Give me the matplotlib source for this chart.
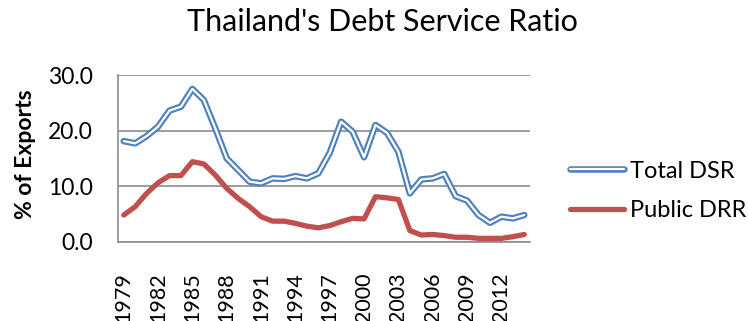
import matplotlib.pyplot as plt
from matplotlib.lines import Line2D

# --------------------------
# Data
# --------------------------
years = list(range(1979, 2015))
total_dsr = [18.1, 17.7, 19.0, 20.7, 23.6, 24.3, 27.5, 25.5, 20.4, 15.0,
             12.9, 10.8, 10.5, 11.4, 11.3, 11.8, 11.4, 12.3, 16.0, 21.6,
             19.8, 15.2, 21.0, 19.6, 16.2, 8.7, 11.2, 11.4, 12.2, 8.2,
             7.4, 4.8, 3.4, 4.5, 4.2, 4.8]
public_drr = [4.8, 6.3, 8.7, 10.6, 11.9, 11.9, 14.4, 14.0, 12.0, 9.6,
              7.8, 6.3, 4.5, 3.7, 3.7, 3.3, 2.8, 2.5, 2.9, 3.6,
              4.2, 4.1, 8.1, 7.9, 7.6, 2.0, 1.2, 1.3, 1.1, 0.8,
              0.8, 0.6, 0.6, 0.6, 0.9, 1.3]
tick_years = years[::3]

blue = '#4F81BD'
red = '#C0504D'
grid_col = '#8C8C8C'

plt.rcParams['font.family'] = ['Lato', 'DejaVu Sans']

fig = plt.figure(figsize=(7.48, 3.21), dpi=100)
ax = fig.add_axes([118 / 748, 1 - 241.7 / 321, 412 / 748, 166.7 / 321])

x = list(range(len(years)))
ax.plot(x, total_dsr, color=blue, lw=4.7, solid_joinstyle='round', solid_capstyle='round', zorder=3)
ax.plot(x, total_dsr, color='white', lw=1.6, solid_joinstyle='round', solid_capstyle='round', zorder=4)
ax.plot(x, public_drr, color=red, lw=3.8, solid_joinstyle='round', solid_capstyle='round', zorder=3)

ax.set_xlim(-0.5, len(years) - 0.5)
ax.set_ylim(0, 30)
ax.set_yticks([0, 10, 20, 30])
ax.set_yticklabels([f'{v:.1f}' for v in [0, 10, 20, 30]], fontsize=16.5)
ax.set_xticks([years.index(y) for y in tick_years])
ax.set_xticklabels([str(y) for y in tick_years], rotation=90, fontsize=15.5)
ax.tick_params(axis='x', length=0, pad=22)
ax.tick_params(axis='y', length=0, pad=18)

ax.yaxis.grid(True, color=grid_col, lw=1.2)
ax.set_axisbelow(True)
for s in ['top', 'right']:
    ax.spines[s].set_visible(False)
for s in ['left', 'bottom']:
    ax.spines[s].set_color(grid_col)
    ax.spines[s].set_linewidth(1.2)

fig.text(25 / 748, 1 - 154.5 / 321, '% of Exports', fontsize=16.5, fontweight='bold',
         rotation=90, ha='center', va='center')

fig.text(0.511, 0.931, "Thailand's Debt Service Ratio", fontsize=22, ha='center', va='center')

h_total = (Line2D([], [], color=blue, lw=4.7, solid_capstyle='round'),
           Line2D([], [], color='white', lw=1.6, solid_capstyle='round'))
h_public = Line2D([], [], color=red, lw=3.8, solid_capstyle='round')
fig.legend([h_total, h_public], ['Total DSR', 'Public DRR'], loc='center left',
           bbox_to_anchor=(0.762, 0.405), frameon=False, fontsize=17, borderpad=0,
           borderaxespad=0, handlelength=2.3, handletextpad=0.25, labelspacing=0.8)

plt.savefig('out.png', dpi=100)
